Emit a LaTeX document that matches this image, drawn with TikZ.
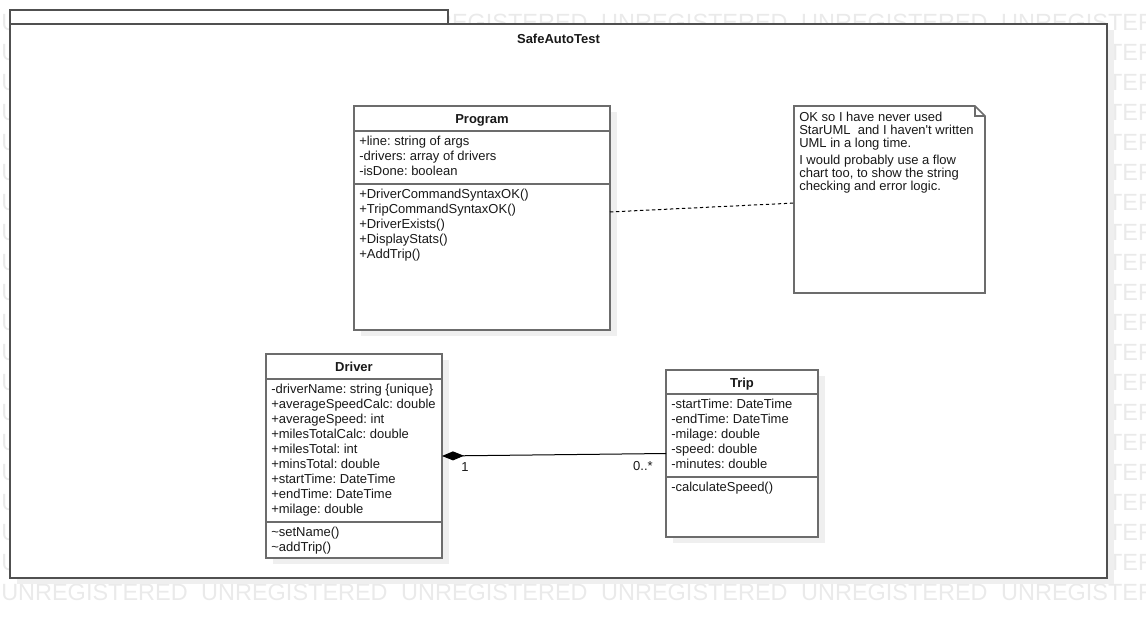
\documentclass[tikz,border=0pt]{standalone}
\usepackage{fontspec}
\setmainfont{Liberation Sans}
\usepackage{xcolor}
\usepackage{tikz}
\usetikzlibrary{arrows.meta,positioning,calc,shadows}
\frenchspacing
\newcommand{\umlfont}{\fontsize{9.75}{11.25}\selectfont}
\newcommand{\notefont}{\fontsize{9.75}{9.75}\selectfont}
\newcommand{\firstline}{\rule{0pt}{7.5pt}}
\newcommand{\wmword}{\makebox[150pt][l]{UNREGISTERED}}
\definecolor{umlline}{RGB}{108,108,108}
\definecolor{umlframe}{RGB}{80,80,80}
\definecolor{umlshadow}{RGB}{239,239,239}
\definecolor{umlmark}{RGB}{234,234,234}
\definecolor{umltext}{RGB}{25,25,25}

\begin{document}
\begin{tikzpicture}[
    x=0.75pt, y=-0.75pt,
    umlshade/.style={drop shadow={shadow xshift=5.25pt, shadow yshift=-4.5pt, fill=umlshadow, opacity=1}},
    package/.style={rectangle, draw=umlframe, fill=white, line width=1.3pt, inner sep=0pt, outer sep=0pt},
    classbox/.style={rectangle, draw=umlline, fill=white, line width=1.2pt, inner sep=0pt, outer sep=0pt, umlshade},
    classname/.style={anchor=base, inner sep=0pt, font=\umlfont\bfseries, text=umltext},
    members/.style={anchor=north west, align=left, inner sep=0pt, font=\umlfont, text=umltext},
    umlsep/.style={draw=umlline, line width=1.2pt},
    notebox/.style={rectangle, inner sep=0pt, outer sep=0pt},
    notetext/.style={anchor=north west, align=left, inner sep=0pt, font=\notefont, text=umltext},
    notelink/.style={black, line width=0.75pt, dash pattern=on 2.5pt off 2pt},
    composition/.style={-{Diamond[length=16.5pt, width=6.75pt]}, black, line width=0.75pt},
    mult/.style={inner sep=0pt, font=\umlfont, text=umltext},
    watermark/.style={anchor=base west, inner sep=0pt, font=\fontsize{17.6}{20}\selectfont, text=umlmark}
]
    \useasboundingbox (0,0) rectangle (1146,618);

    % Watermark rows
    \foreach \k in {0,...,19}
        \node[watermark] (mark\k) at (1,30*\k+30) {\wmword\wmword\wmword\wmword\wmword\wmword};

    % Package frame
    \node[package, umlshade, minimum width=822.75pt, minimum height=415.5pt] (pkg) at (558.5,301) {};
    \node[package, minimum width=328.5pt, minimum height=10.5pt, anchor=south west] (pkgtab) at (pkg.north west) {};
    \node[classname] (pkgtitle) at ($(pkg.north)+(0,19)$) {SafeAutoTest};

    % Program class
    \node[classbox, minimum width=192pt, minimum height=168pt] (program) at (482,218) {};
    \node[classname] (programname) at ($(program.north)+(0,17)$) {Program};
    \draw[umlsep] ($(program.north west)+(0,25)$) -- ($(program.north east)+(0,25)$);
    \node[members] (programattr) at ($(program.north west)+(5,29)$) {\firstline+line: string of args\\-drivers: array of drivers\\-isDone: boolean};
    \draw[umlsep] ($(program.north west)+(0,78)$) -- ($(program.north east)+(0,78)$);
    \node[members] (programops) at ($(program.north west)+(5,82)$) {\firstline+DriverCommandSyntaxOK()\\+TripCommandSyntaxOK()\\+DriverExists()\\+DisplayStats()\\+AddTrip()};

    % Driver class
    \node[classbox, minimum width=132pt, minimum height=153pt] (driver) at (354,456) {};
    \node[classname] (drivername) at ($(driver.north)+(0,17)$) {Driver};
    \draw[umlsep] ($(driver.north west)+(0,25)$) -- ($(driver.north east)+(0,25)$);
    \node[members] (driverattr) at ($(driver.north west)+(5,29)$) {\firstline-driverName: string \{unique\}\\+averageSpeedCalc: double\\+averageSpeed: int\\+milesTotalCalc: double\\+milesTotal: int\\+minsTotal: double\\+startTime: DateTime\\+endTime: DateTime\\+milage: double};
    \draw[umlsep] ($(driver.north west)+(0,168)$) -- ($(driver.north east)+(0,168)$);
    \node[members] (driverops) at ($(driver.north west)+(5,172)$) {\firstline\textasciitilde setName()\\\textasciitilde addTrip()};

    % Trip class
    \node[classbox, minimum width=114pt, minimum height=125.25pt] (trip) at (742,453.5) {};
    \node[classname] (tripname) at ($(trip.north)+(0,17)$) {Trip};
    \draw[umlsep] ($(trip.north west)+(0,24)$) -- ($(trip.north east)+(0,24)$);
    \node[members] (tripattr) at ($(trip.north west)+(5,28)$) {\firstline-startTime: DateTime\\-endTime: DateTime\\-milage: double\\-speed: double\\-minutes: double};
    \draw[umlsep] ($(trip.north west)+(0,107)$) -- ($(trip.north east)+(0,107)$);
    \node[members] (tripops) at ($(trip.north west)+(5,111)$) {\firstline-calculateSpeed()};

    % Note
    \node[notebox, minimum width=143.25pt, minimum height=140.25pt] (note) at (889.5,199.5) {};
    \draw[umlsep, fill=white] (note.north west) -- ($(note.north east)+(-10,0)$) -- ($(note.north east)+(0,10)$) -- (note.south east) -- (note.south west) -- cycle;
    \draw[draw=umlline, line width=0.8pt] ($(note.north east)+(-10,0)$) -- ($(note.north east)+(-10,10)$) -- ($(note.north east)+(0,10)$);
    \node[notetext] (notebody) at ($(note.north west)+(5,5)$) {\firstline OK so I have never used\\StarUML\ \ and I haven\textquotesingle t written\\UML in a long time.\\[3pt]I would probably use a flow\\chart too, to show the string\\checking and error logic.};

    % Links
    \draw[notelink] ($(program.north east)!0.473!(program.south east)$) -- ($(note.north west)!0.519!(note.south west)$);
    \draw[composition] (trip.west) -- (driver.east);
    \node[mult, anchor=base west] (driverend) at ($(driver.east)+(19,15)$) {1};
    \node[mult, anchor=base east] (tripend) at ($(trip.west)+(-13,16.5)$) {0..*};
\end{tikzpicture}
\end{document}
